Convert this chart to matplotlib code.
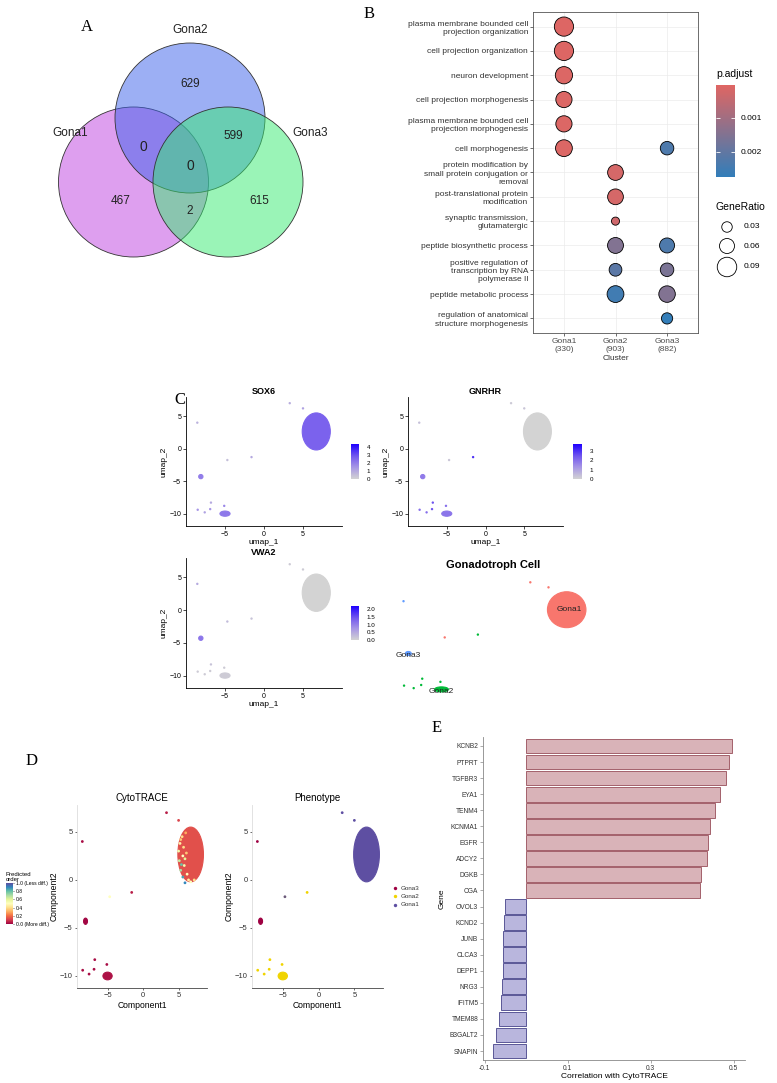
import numpy as np
import matplotlib
matplotlib.use('Agg')
import matplotlib.pyplot as plt
from matplotlib.patches import Circle, Ellipse
from matplotlib.colors import LinearSegmentedColormap

plt.rcParams['font.family'] = ['Liberation Sans', 'DejaVu Sans']

W, H = 777, 1083

# ---------------- data ----------------
# A: venn of marker genes
venn_sets = ['Gona1', 'Gona2', 'Gona3']
venn_regions = ['1', '2', '3', '12', '23', '13', '123']
venn_values = [467, 629, 615, 0, 599, 2, 0]

# B: GO enrichment dot plot
go_terms = ['plasma membrane bounded cell\nprojection organization',
            'cell projection organization',
            'neuron development',
            'cell projection morphogenesis',
            'plasma membrane bounded cell\nprojection morphogenesis',
            'cell morphogenesis',
            'protein modification by\nsmall protein conjugation or\nremoval',
            'post-translational protein\nmodification',
            'synaptic transmission,\nglutamatergic',
            'peptide biosynthetic process',
            'positive regulation of\ntranscription by RNA\npolymerase II',
            'peptide metabolic process',
            'regulation of anatomical\nstructure morphogenesis']
go_clusters = ['Gona1\n(330)', 'Gona2\n(903)', 'Gona3\n(882)']
dot_term = [1, 2, 3, 4, 5, 6, 6, 7, 8, 9, 10, 10, 11, 11, 12, 12, 13]
dot_cluster = [1, 1, 1, 1, 1, 1, 3, 2, 2, 2, 2, 3, 2, 3, 2, 3, 3]
dot_ratio = [0.088, 0.088, 0.075, 0.068, 0.068, 0.072, 0.050, 0.065, 0.065, 0.014,
             0.066, 0.060, 0.045, 0.050, 0.072, 0.070, 0.035]
dot_padj = [0.00008, 0.00008, 0.0001, 0.0001, 0.0001, 0.0001, 0.0023, 0.0002, 0.0002, 0.0003,
            0.0015, 0.0023, 0.0021, 0.0016, 0.0025, 0.0015, 0.0027]
ratio_legend = [0.03, 0.06, 0.09]

# C / D: UMAP embedding (cluster blobs + single cells)
cl_names = ['Gona1', 'Gona3', 'Gona2']
cl_cx = [6.7, -8.1, -5.0]
cl_cy = [2.65, -4.3, -10.0]
cl_w = [3.6, 0.55, 1.3]
cl_h = [5.7, 0.65, 0.8]
pt_x = [-8.55, 3.3, 5.0, -4.7, -1.6, -8.5, -7.6, -6.8, -6.9, -5.1]
pt_y = [4.0, 7.0, 6.2, -1.75, -1.3, -9.4, -9.8, -8.3, -9.3, -8.8]
pt_group = ['Gona3', 'Gona1', 'Gona1', 'Gona1', 'Gona2', 'Gona2', 'Gona2', 'Gona2', 'Gona2', 'Gona2']

sox6_cl = [2.6, 2.0, 2.1]
sox6_pt = [0.8, 0.9, 1.2, 0.5, 1.0, 1.5, 1.2, 1.0, 1.5, 1.8]
gnrhr_cl = [0.0, 1.8, 1.9]
gnrhr_pt = [0.4, 0.2, 0.3, 0.3, 3.0, 2.0, 2.0, 2.5, 2.5, 2.0]
vwa2_cl = [0.0, 1.1, 0.1]
vwa2_pt = [0.5, 0.1, 0.1, 0.3, 0.2, 0.1, 0.1, 0.2, 0.1, 0.1]
expr_max = [4.33, 3.75, 2.2]

# CytoTRACE scores
cyto_cl = [0.86, 0.99, 0.97]
cyto_pt = [0.98, 0.95, 0.88, 0.5, 0.95, 0.98, 0.98, 0.98, 0.98, 0.98]
edge_x = [5.0, 5.1, 5.3, 5.6, 5.9, 5.2, 5.5, 5.6, 5.8, 6.2, 5.4, 6.4, 5.3, 6.0, 5.7, 6.7, 7.2, 6.1, 5.9]
edge_y = [3.0, 2.0, 1.0, 0.3, -0.3, 3.8, 4.5, 2.5, 1.5, 0.6, 1.6, 0.0, 4.2, 4.9, 3.4, -0.2, 0.0, 2.8, 2.2]
edge_v = [0.45, 0.35, 0.3, 0.15, 0.1, 0.55, 0.6, 0.5, 0.45, 0.5, 0.2, 0.55, 0.65, 0.7, 0.6, 0.5, 0.6, 0.65, 0.4]

# E: correlation with CytoTRACE
genes = ['KCNB2', 'PTPRT', 'TGFBR3', 'EYA1', 'TENM4', 'KCNMA1', 'EGFR', 'ADCY2', 'DGKB', 'CGA',
         'OVOL3', 'KCND2', 'JUNB', 'CLCA3', 'DEPP1', 'NRG3', 'IFITM5', 'TMEM88', 'B3GALT2', 'SNAPIN']
corr = [0.496, 0.488, 0.482, 0.466, 0.454, 0.442, 0.439, 0.436, 0.422, 0.419,
        -0.052, -0.053, -0.055, -0.055, -0.055, -0.059, -0.061, -0.066, -0.073, -0.081]

# ---------------- figure ----------------
fig = plt.figure(figsize=(W / 100, H / 100), dpi=100)


def px_ax(l, t, r, b):
    return fig.add_axes([l / W, 1 - b / H, (r - l) / W, (b - t) / H])


ov = px_ax(0, 0, W, H)
ov.set_xlim(0, W)
ov.set_ylim(H, 0)
ov.axis('off')

serif = ['Liberation Serif', 'DejaVu Serif']
for lab, x, y in [('A', 87, 27), ('B', 369, 14), ('C', 180, 400), ('D', 32, 761), ('E', 437, 728)]:
    ov.text(x, y, lab, family=serif, fontsize=12, ha='center', va='center')

# ---- A: venn ----
venn_cols = ['#BF41E1', '#3B61EB', '#37EB71']
venn_pos = [(133.5, 182), (190, 118), (228, 182)]
for (cx, cy), col in zip(venn_pos, venn_cols):
    ov.add_patch(Circle((cx, cy), 75, fc=col, alpha=0.5, ec='none'))
    ov.add_patch(Circle((cx, cy), 75, fc='none', ec='#333333', lw=0.6))
for name, (x, y) in zip(venn_sets, [(70, 133), (190, 30), (310, 133)]):
    ov.text(x, y, name, fontsize=8.5, ha='center', va='center', color='#222222')
region_pos = {'1': (121, 201), '2': (190, 84), '3': (259, 201), '12': (143, 147),
              '23': (233, 136), '13': (190, 211), '123': (190, 166)}
for reg, val in zip(venn_regions, venn_values):
    x, y = region_pos[reg]
    ov.text(x, y, str(val), fontsize=10 if val == 0 else 8.5, ha='center', va='center', color='#222222')

# ---- B: dot plot ----
cmapB = LinearSegmentedColormap.from_list('padj', ['#E06663', '#327EBA'])
vminB, vmaxB = 0.00003, 0.00274


def dot_size(r):
    d_px = 6 + 150 * np.asarray(r)
    return (d_px * 72 / 100) ** 2


axB = px_ax(533, 12, 698, 333)
axB.scatter(dot_cluster, dot_term, s=dot_size(dot_ratio), c=dot_padj, cmap=cmapB,
            vmin=vminB, vmax=vmaxB, edgecolors='black', linewidths=0.6, zorder=3)
axB.set_xlim(0.4, 3.6)
axB.set_ylim(13.6, 0.4)
axB.set_yticks(range(1, 14))
axB.set_yticklabels(go_terms, fontsize=6, color='#333333')
axB.set_xticks([1, 2, 3])
axB.set_xticklabels(go_clusters, fontsize=6, color='#4D4D4D')
for t in axB.get_yticklabels() + axB.get_xticklabels():
    t.set_linespacing(1.25)
axB.set_xlabel('Cluster', fontsize=6, labelpad=1, color='#333333')
axB.grid(color='#EBEBEB', lw=0.5)
axB.set_axisbelow(True)
axB.tick_params(length=2, width=0.5, pad=1.5, color='#333333')
for sp in axB.spines.values():
    sp.set_color('#555555')
    sp.set_linewidth(0.6)

ov.text(716, 74, 'p.adjust', fontsize=7.5, ha='left', va='center')
cbB = px_ax(716, 85, 735, 177)
cbB.imshow(np.linspace(vminB, vmaxB, 256)[:, None], cmap=cmapB, aspect='auto',
           extent=(0, 1, vmaxB, vminB))
cbB.set_xticks([])
cbB.set_yticks([0.001, 0.002])
cbB.set_yticklabels(['0.001', '0.002'], fontsize=6)
cbB.tick_params(axis='y', direction='in', left=True, right=True, labelleft=False, labelright=True,
                color='white', length=3, width=0.6, pad=4)
for sp in cbB.spines.values():
    sp.set_visible(False)

ov.text(716, 207, 'GeneRatio', fontsize=7.5, ha='left', va='center')
ov.scatter([727] * 3, [227, 246, 267], s=dot_size(ratio_legend), fc='none', ec='black', lw=0.6)
for r, y in zip(ratio_legend, [227, 246, 267]):
    ov.text(744, y, f'{r:.2f}', fontsize=6, ha='left', va='center')

# ---- C: UMAP feature plots ----
cmap_expr = LinearSegmentedColormap.from_list(
    'expr', [(0, '#D3D3D3'), (0.35, '#A594E6'), (0.65, '#7358EE'), (1, '#1E00FF')])


def draw_umap(ax, cl_cols, pt_cols, s=3):
    for cx, cy, w, h, col in zip(cl_cx, cl_cy, cl_w, cl_h, cl_cols):
        ax.add_patch(Ellipse((cx, cy), w, h, fc=col, ec=col, lw=0.8))
    ax.scatter(pt_x, pt_y, s=s, c=pt_cols, lw=0, zorder=3)


def classic(ax, fs=5):
    for sp in ['top', 'right']:
        ax.spines[sp].set_visible(False)
    for sp in ['left', 'bottom']:
        ax.spines[sp].set_linewidth(0.6)
    ax.tick_params(labelsize=fs, length=2, width=0.5, pad=1.5)


feat = [('SOX6', sox6_cl, sox6_pt, expr_max[0], (186, 397, 342, 526), (351, 444, 359, 479), [0, 1, 2, 3, 4], '%d'),
        ('GNRHR', gnrhr_cl, gnrhr_pt, expr_max[1], (408, 397, 563, 526), (573, 444, 582, 479), [0, 1, 2, 3], '%d'),
        ('VWA2', vwa2_cl, vwa2_pt, expr_max[2], (186, 558, 342, 688), (351, 606, 359, 640), [0, 0.5, 1, 1.5, 2], '%.1f')]
for gene, ecl, ept, emax, rect, cbrect, cticks, fmt in feat:
    ax = px_ax(*rect)
    draw_umap(ax, [cmap_expr(v / emax) for v in ecl], [cmap_expr(v / emax) for v in ept])
    ax.set_xlim(-10, 10)
    ax.set_ylim(-11.9, 7.95)
    ax.set_xticks([-5, 0, 5])
    ax.set_yticks([-10, -5, 0, 5])
    classic(ax)
    ax.set_xlabel('umap_1', fontsize=6, labelpad=1)
    ax.set_ylabel('umap_2', fontsize=6, labelpad=1)
    ax.set_title(gene, fontsize=6.5, fontweight='bold', pad=2)
    cb = px_ax(*cbrect)
    cb.imshow(np.linspace(emax, 0, 256)[:, None], cmap=cmap_expr, vmin=0, vmax=emax,
              aspect='auto', extent=(0, 1, 0, emax))
    cb.set_xticks([])
    cb.set_yticks(cticks)
    cb.set_yticklabels([fmt % t for t in cticks], fontsize=4.5)
    cb.tick_params(axis='y', left=False, right=False, labelleft=False, labelright=True, pad=2)
    for sp in cb.spines.values():
        sp.set_visible(False)

# Gonadotroph clusters
gona_cols = {'Gona1': '#F8766D', 'Gona2': '#00BA38', 'Gona3': '#619CFF'}
axG = px_ax(388, 576, 602, 702)
draw_umap(axG, [gona_cols[c] for c in cl_names], [gona_cols[g] for g in pt_group])
axG.set_xlim(-10, 10)
axG.set_ylim(-12, 8)
axG.axis('off')
narrow = ['Liberation Sans Narrow', 'Liberation Sans', 'DejaVu Sans']
for name, cx, cy in zip(cl_names, cl_cx, cl_cy):
    axG.text(cx + (0.2 if name == 'Gona1' else 0), cy - (0.0 if name == 'Gona1' else 0.3), name,
             family=narrow, fontsize=6, ha='center', va='center', color='#222222')
ov.text(493, 565, 'Gonadotroph Cell', family=narrow, fontsize=8, fontweight='bold', ha='center', va='center')

# ---- D: CytoTRACE ----
spec = plt.get_cmap('Spectral')
for title, rect, mode in [('CytoTRACE', (77, 805, 207, 988), 'cyto'), ('Phenotype', (252, 805, 383, 988), 'pheno')]:
    ax = px_ax(*rect)
    if mode == 'cyto':
        draw_umap(ax, [spec(1 - v) for v in cyto_cl], [spec(1 - v) for v in cyto_pt], s=4)
        ax.scatter(edge_x, edge_y, s=4, c=[spec(1 - v) for v in edge_v], lw=0, zorder=3)
    else:
        ph_cols = {'Gona1': '#5E4FA2', 'Gona2': '#F0D400', 'Gona3': '#9E0142'}
        pcol = [ph_cols[g] for g in pt_group]
        pcol[3] = '#6B5A7A'
        draw_umap(ax, [ph_cols[c] for c in cl_names], pcol, s=4)
    ax.set_xlim(-9.3, 9.0)
    ax.set_ylim(-11.25, 7.8)
    ax.set_xticks([-5, 0, 5])
    ax.set_yticks([-10, -5, 0, 5])
    classic(ax, fs=5.5)
    ax.spines['left'].set_color('#DDDDDD')
    ax.spines['bottom'].set_color('#444444')
    ax.tick_params(length=1.5, colors='#333333')
    ax.set_xlabel('Component1', fontsize=6.2, labelpad=1)
    ax.set_ylabel('Component2', fontsize=6.2, labelpad=1)
    ax.set_title(title, fontsize=7, pad=3)

ov.text(6, 877, 'Predicted\norder', fontsize=4.3, ha='left', va='center', linespacing=0.95)
cbD = px_ax(6, 883, 13, 924)
cbD.imshow(np.linspace(1, 0, 256)[:, None], cmap='Spectral', vmin=0, vmax=1, aspect='auto',
           extent=(0, 1, 0, 1))
cbD.set_xticks([])
cbD.set_yticks([0, 0.2, 0.4, 0.6, 0.8, 1.0])
cbD.set_yticklabels(['0.0 (More diff.)', '0.2', '0.4', '0.6', '0.8', '1.0 (Less diff.)'], fontsize=3.6)
cbD.tick_params(axis='y', left=False, right=True, labelleft=False, labelright=True, length=1,
                width=0.4, pad=1)
for sp in cbD.spines.values():
    sp.set_visible(False)

ph_leg = [('Gona3', '#9E0142'), ('Gona2', '#F0D400'), ('Gona1', '#5E4FA2')]
for i, (name, col) in enumerate(ph_leg):
    y = 888 + i * 8.3
    ov.scatter([395], [y], s=6, c=col, lw=0)
    ov.text(401, y, name, fontsize=4.5, ha='left', va='center', color='#333333')

# ---- E: correlation bars ----
axE = px_ax(483, 737, 745, 1060)
ypos = np.arange(len(genes))
corr = np.array(corr)
pos = corr > 0
axE.barh(ypos[pos], corr[pos], height=0.92, color='#D9B3B8', edgecolor='#A3616B', lw=0.7)
axE.barh(ypos[~pos], corr[~pos], height=0.92, color='#B9B6DD', edgecolor='#5B5797', lw=0.7)
axE.set_xlim(-0.104, 0.527)
axE.set_ylim(len(genes) - 0.44, -0.56)
axE.set_yticks(ypos)
axE.set_yticklabels(genes, fontsize=4.8, color='#333333')
axE.set_xticks([-0.1, 0.1, 0.3, 0.5])
axE.set_xticklabels(['-0.1', '0.1', '0.3', '0.5'], fontsize=4.8, color='#333333')
classic(axE, fs=4.8)
axE.spines['left'].set_color('#888888')
axE.spines['bottom'].set_color('#888888')
axE.tick_params(color='#888888')
axE.set_xlabel('Correlation with CytoTRACE', fontsize=6, labelpad=1)
axE.set_ylabel('Gene', fontsize=6, labelpad=3)

fig.savefig('out.png', dpi=100)
